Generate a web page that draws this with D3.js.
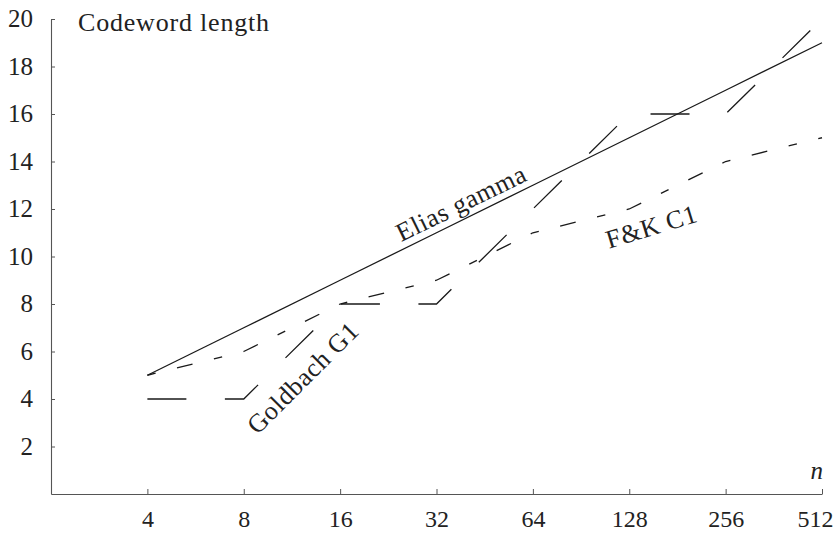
<!DOCTYPE html>
<html>
<head>
<meta charset="utf-8">
<script src="https://cdn.jsdelivr.net/npm/d3@7"></script>
<style>
  html, body { margin: 0; padding: 0; background: #fff; }
  svg { display: block; }
  text { font-family: "Liberation Serif", "Times New Roman", serif; fill: #222; }
</style>
</head>
<body>
<script>
// ---- data ----
const nValues      = [4, 8, 16, 32, 64, 128, 256, 512];
const eliasGamma   = [5, 7, 9, 11, 13, 15, 17, 19];
const fkC1         = [5, 6, 8, 9, 11, 12, 14, 15];
const goldbachG1   = [4, 4, 8, 8, 12, 16, 16, 20];
const xTickValues  = [4, 8, 16, 32, 64, 128, 256, 512];
const yTickValues  = [2, 4, 6, 8, 10, 12, 14, 16, 18, 20];

const W = 835, H = 533;
const svg = d3.select("body").append("svg").attr("width", W).attr("height", H);

const x = d3.scaleLog().base(2).domain([2, 512]).range([51, 822]);
const y = d3.scaleLinear().domain([0, 20]).range([494, 19]);

const fontSize = 25;

// axes
const xAxis = d3.axisBottom(x).tickValues(xTickValues).tickFormat(d3.format("d"))
  .tickSizeInner(-5).tickSizeOuter(0).tickPadding(16);
const gx = svg.append("g").attr("transform", `translate(0,${y(0)})`).call(xAxis);
const yAxis = d3.axisLeft(y).tickValues(yTickValues).tickFormat(d3.format("d"))
  .tickSizeInner(-4).tickSizeOuter(0).tickPadding(18);
const gy = svg.append("g").attr("transform", `translate(${x(2)},0)`).call(yAxis);

[gx, gy].forEach(g => {
  g.select(".domain").attr("stroke", "#555").attr("stroke-width", 1.1);
  g.selectAll(".tick line").attr("stroke", "#555").attr("stroke-width", 1);
  g.selectAll(".tick text").attr("font-family", "Liberation Serif").attr("font-size", fontSize).attr("fill", "#222");
});
gx.selectAll(".tick text").attr("font-size", 24);
gy.selectAll(".tick text").attr("dy", "0.3em");
gx.selectAll(".tick text").filter(d => d === 512).attr("x", -7);

// lines
const line = vals => d3.line().x((d, i) => x(nValues[i])).y(d => y(d))(vals);

svg.append("path").attr("d", line(eliasGamma))
  .attr("fill", "none").attr("stroke", "#1a1a1a").attr("stroke-width", 1.3);
svg.append("path").attr("d", line(fkC1))
  .attr("fill", "none").attr("stroke", "#1a1a1a").attr("stroke-width", 1.3)
  .attr("stroke-dasharray", "8.5,22,16,22");
svg.append("path").attr("d", line(goldbachG1))
  .attr("fill", "none").attr("stroke", "#1a1a1a").attr("stroke-width", 1.3)
  .attr("stroke-dasharray", "39,38.5");

// labels
svg.append("text").attr("x", 78).attr("y", 31).attr("font-size", fontSize + 1)
  .attr("letter-spacing", 0.8).text("Codeword length");
svg.append("text").attr("x", 823).attr("y", 479).attr("text-anchor", "end")
  .attr("font-size", fontSize).attr("font-style", "italic").text("n");

function rotLabel(txt, cx, cy, ang) {
  svg.append("text").attr("text-anchor", "middle").attr("font-size", fontSize + 1)
    .attr("letter-spacing", 0.6)
    .attr("transform", `translate(${cx},${cy}) rotate(${ang})`).text(txt);
}
rotLabel("Elias gamma", 465, 211, -26);
rotLabel("Goldbach G1", 309, 384, -45);
rotLabel("F&K C1", 654, 235, -17);
</script>
</body>
</html>
